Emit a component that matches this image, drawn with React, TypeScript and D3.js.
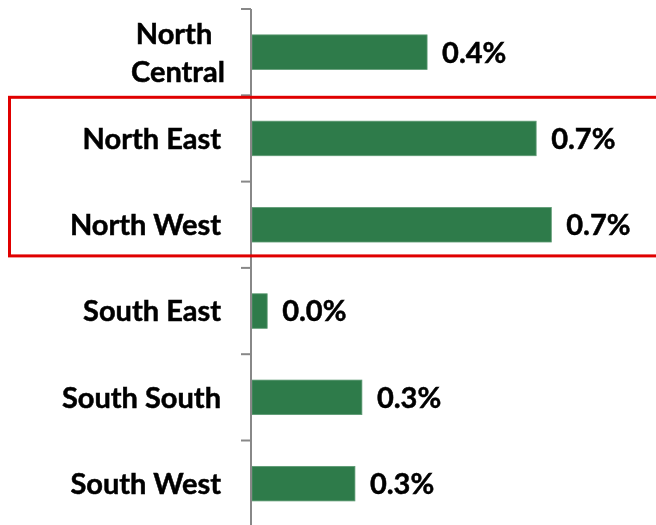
import React, { useEffect, useRef } from "react";
import * as d3 from "d3";

// Region names and their values (in percent)
const regions = ["North Central", "North East", "North West", "South East", "South South", "South West"];
const values = [0.427, 0.693, 0.73, 0.037, 0.268, 0.251];
const highlighted = ["North East", "North West"];

const App = () => {
  const svgRef = useRef<SVGSVGElement>(null);

  useEffect(() => {
    const width = 656;
    const height = 525;
    const marginTop = 9;
    const marginLeft = 251;
    const font = "Lato, 'Open Sans', sans-serif";
    const fontSize = 29;

    const data = regions.map((r, i) => ({ region: r, value: values[i] }));

    const y = d3.scaleBand()
      .domain(regions)
      .range([marginTop, marginTop + 86.3 * regions.length])
      .paddingInner(0.6)
      .paddingOuter(0.3);

    const x = d3.scaleLinear()
      .domain([0, 1])
      .range([marginLeft, marginLeft + 410]);

    const svg = d3.select(svgRef.current)
      .attr("width", width)
      .attr("height", height)
      .attr("viewBox", `0 0 ${width} ${height}`);

    svg.selectAll("*").remove();

    // bars
    svg.append("g")
      .selectAll("rect")
      .data(data)
      .join("rect")
        .attr("x", x(0) + 1)
        .attr("y", d => y(d.region)!)
        .attr("width", d => x(d.value) - x(0))
        .attr("height", y.bandwidth())
        .attr("fill", "#2e7b4a")
        .attr("stroke", "#5d9a73")
        .attr("stroke-width", 0.8);

    // value labels
    const fmt = d3.format(".1f");
    svg.append("g")
      .selectAll("text")
      .data(data)
      .join("text")
        .attr("x", d => x(d.value) + 16)
        .attr("y", d => y(d.region)! + y.bandwidth() / 2)
        .attr("dy", "0.36em")
        .attr("font-family", font)
        .attr("font-weight", "bold")
        .attr("font-size", fontSize)
        .attr("fill", "#000")
        .attr("stroke", "#000")
        .attr("stroke-width", 0.5)
        .text(d => fmt(d.value) + "%");

    // axis line with category ticks
    const step = y.step();
    const axis = svg.append("g").attr("stroke", "#888").attr("stroke-width", 2);
    axis.append("line")
      .attr("x1", marginLeft).attr("x2", marginLeft)
      .attr("y1", marginTop).attr("y2", height);
    axis.selectAll("line.tick")
      .data(d3.range(regions.length + 1))
      .join("line")
        .attr("class", "tick")
        .attr("x1", marginLeft - 10).attr("x2", marginLeft)
        .attr("y1", i => marginTop + i * step)
        .attr("y2", i => marginTop + i * step);

    // category labels
    const labels = svg.append("g")
      .attr("font-family", font)
      .attr("font-weight", "bold")
      .attr("font-size", fontSize)
      .attr("fill", "#000")
      .attr("stroke", "#000")
      .attr("stroke-width", 0.5);
    data.forEach(d => {
      const cy = y(d.region)! + y.bandwidth() / 2;
      if (d.region === "North Central") {
        const t = labels.append("text").attr("text-anchor", "middle");
        t.append("tspan").attr("x", 174).attr("y", cy - 19).attr("dy", "0.36em").text("North");
        t.append("tspan").attr("x", 178).attr("y", cy + 19).attr("dy", "0.36em").text("Central");
      } else {
        labels.append("text")
          .attr("text-anchor", "end")
          .attr("x", 221)
          .attr("y", cy)
          .attr("dy", "0.36em")
          .text(d.region);
      }
    });

    // highlight box around north east / north west
    const top = marginTop + regions.indexOf(highlighted[0]) * step;
    const bottom = marginTop + (regions.indexOf(highlighted[1]) + 1) * step;
    svg.append("rect")
      .attr("x", 9.5)
      .attr("y", top + 2)
      .attr("width", 720)
      .attr("height", bottom - top - 14)
      .attr("fill", "none")
      .attr("stroke", "#e00000")
      .attr("stroke-width", 3);
  }, []);

  return <svg ref={svgRef} style={{ position: "fixed", left: 0, top: 0 }}></svg>;
};

export default App;
